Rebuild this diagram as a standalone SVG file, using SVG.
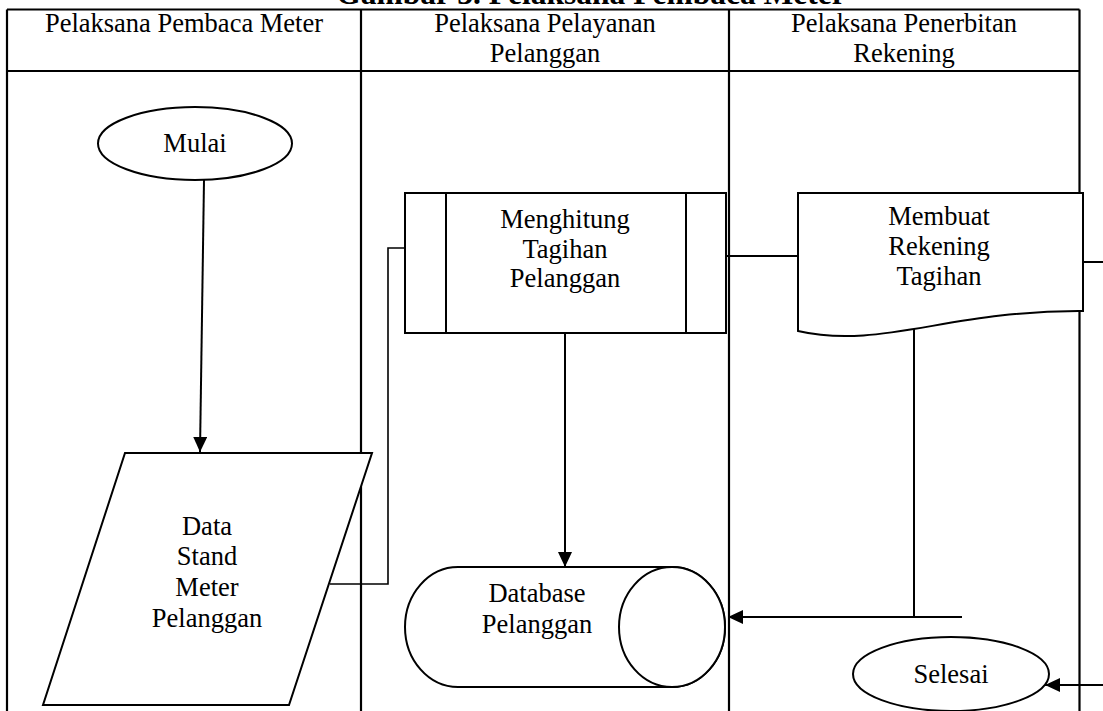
<svg xmlns="http://www.w3.org/2000/svg" width="1103" height="711" viewBox="0 0 1103 711">
<style>
  .t{font-family:"Liberation Serif","Times New Roman",serif;font-size:26.5px;fill:#000;text-anchor:middle}
  .title{font-family:"Liberation Serif","Times New Roman",serif;font-size:31.5px;font-weight:bold;fill:#000;text-anchor:middle}
  .grid{stroke:#000;stroke-width:2.2;fill:none}
  .shape{stroke:#000;stroke-width:2;fill:#fff}
  .conn{stroke:#000;stroke-width:2;fill:none}
  .thin{stroke:#000;stroke-width:1.6;fill:none}
</style>
<defs>
  <marker id="arr" markerUnits="userSpaceOnUse" markerWidth="15" markerHeight="14" refX="15" refY="7" orient="auto">
    <path d="M0,0 L15,7 L0,14 z" fill="#000"/>
  </marker>
</defs>
<rect width="1103" height="711" fill="#fff"/>
<text class="title" x="591" y="4">Gambar 3. Pelaksana Pembaca Meter</text>
<g id="swimlanes">
  <path class="grid" d="M7,9.5 H1079.5 M7,71 H1079.5 M7,9.5 V712 M361,9.5 V712 M729,9.5 V712 M1079.5,9.5 V712"/>
  <text class="t" x="184" y="32">Pelaksana Pembaca Meter</text>
  <text class="t" x="545" y="32">Pelaksana Pelayanan</text>
  <text class="t" x="545" y="62">Pelanggan</text>
  <text class="t" x="904" y="32">Pelaksana Penerbitan</text>
  <text class="t" x="904" y="62">Rekening</text>
</g>
<g id="connectors">
  <path class="conn" d="M204,180 L200,452" marker-end="url(#arr)"/>
  <path class="thin" d="M330,584 H388 V248 H405"/>
  <path class="conn" d="M565,333 V567" marker-end="url(#arr)"/>
  <path class="conn" d="M726,256 H798"/>
  <path class="conn" d="M914,329 V617"/>
  <path class="conn" d="M962,617 H728" marker-end="url(#arr)"/>
  <path class="conn" d="M1083,262 H1103"/>
  <path class="conn" d="M1103,685 H1045" marker-end="url(#arr)"/>
</g>
<g id="mulai">
  <ellipse class="shape" cx="195" cy="143.5" rx="97" ry="36.5"/>
  <text class="t" x="195" y="152">Mulai</text>
</g>
<g id="data-stand">
  <polygon class="shape" points="125,453 372,453 289,705 43,705"/>
  <text class="t" x="207" y="535">Data</text>
  <text class="t" x="207" y="565">Stand</text>
  <text class="t" x="207" y="596">Meter</text>
  <text class="t" x="207" y="627">Pelanggan</text>
</g>
<g id="menghitung">
  <rect class="shape" x="405" y="193" width="321" height="140"/>
  <path class="shape" d="M446,193 V333 M686,193 V333"/>
  <text class="t" x="565" y="228">Menghitung</text>
  <text class="t" x="565" y="258">Tagihan</text>
  <text class="t" x="565" y="287">Pelanggan</text>
</g>
<g id="membuat-rekening">
  <path class="shape" d="M798,193 H1083 V311 C950,310 880,350 798,331 Z"/>
  <text class="t" x="939" y="225">Membuat</text>
  <text class="t" x="939" y="255">Rekening</text>
  <text class="t" x="939" y="285">Tagihan</text>
</g>
<g id="database">
  <path class="shape" d="M458,567 H672 A53,60 0 0 1 672,687 H458 A53,60 0 0 1 458,567 Z"/>
  <ellipse class="shape" cx="672" cy="627" rx="53" ry="60"/>
  <text class="t" x="537" y="602">Database</text>
  <text class="t" x="537" y="633">Pelanggan</text>
</g>
<g id="selesai">
  <ellipse class="shape" cx="951" cy="674" rx="98" ry="37"/>
  <text class="t" x="951" y="683">Selesai</text>
</g>
</svg>
